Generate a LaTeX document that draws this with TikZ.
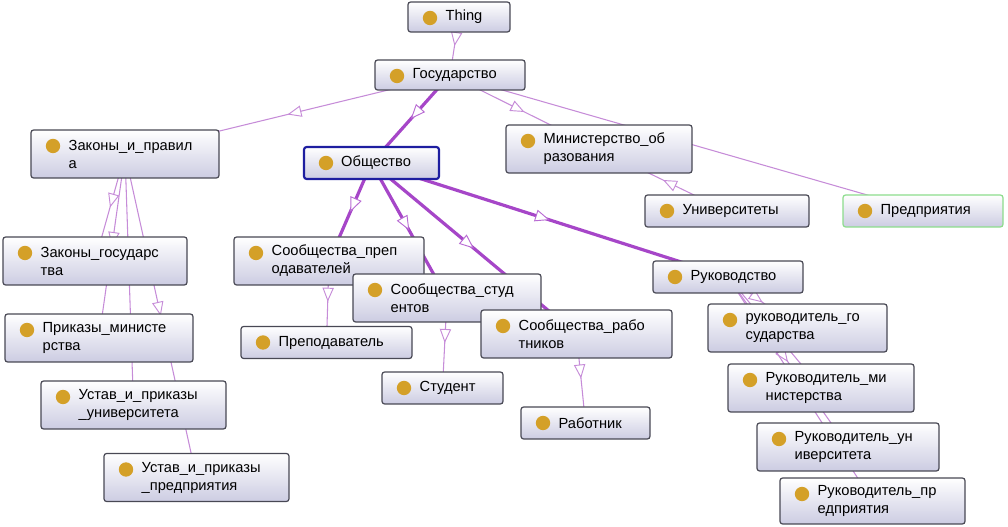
\documentclass[tikz,border=0pt]{standalone}
\usepackage{fontspec}
\setmainfont{Liberation Sans}
\usepackage{tikz}
\usetikzlibrary{arrows.meta,decorations.markings,backgrounds}
\definecolor{boxline}{RGB}{72,72,84}
\definecolor{boxfill}{RGB}{204,204,226}
\definecolor{dotcol}{RGB}{212,160,40}
\definecolor{thinedge}{RGB}{198,140,216}
\definecolor{thickedge}{RGB}{166,70,200}
\definecolor{obshline}{RGB}{30,30,160}
\definecolor{predline}{RGB}{140,220,140}

\begin{document}
\begin{tikzpicture}[x=0.75pt, y=-0.75pt,
  cls/.style={draw=boxline, line width=0.9pt, rounded corners=2pt, top color=white, bottom color=boxfill,
    minimum height=24pt, inner sep=0pt,
    path picture={\fill[dotcol] ([xshift=16.5pt,yshift=-12pt]path picture bounding box.north west) circle (5.4pt);}},
  tall/.style={minimum height=36pt},
  lbl/.style={font=\fontsize{11}{13.5}\selectfont, align=left, inner sep=0pt, anchor=west},
  isa/.style={draw=thinedge, line width=0.8pt, postaction={decorate},
    decoration={markings, mark=at position 0.5 with {\arrow{Triangle[fill=white, length=10.5pt, width=8.5pt, line width=0.7pt]}}}},
  isab/.style={draw=thickedge, line width=2.4pt, postaction={decorate},
    decoration={markings, mark=at position 0.5 with {\arrow{Triangle[fill=white, color=thickedge!80, length=11pt, width=9pt, line width=0.7pt]}}}}]
\useasboundingbox (0,0) rectangle (1008,527);

\node[cls, minimum width=76.5pt, minimum height=22.5pt] (thing) at (459,17) {};
\node[lbl] (thing-t) at ([xshift=28.5pt]thing.west) {Thing};
\node[cls, minimum width=112.5pt, minimum height=22.5pt] (gos) at (450,75) {};
\node[lbl] (gos-t) at ([xshift=28.5pt]gos.west) {Государство};
\node[cls, tall, minimum width=141pt] (zakon) at (125,154) {};
\node[lbl] (zakon-t) at ([xshift=28.5pt]zakon.west) {Законы\_и\_правил\\а};
\node[cls, draw=obshline, line width=1.6pt, minimum width=101.25pt] (obsh) at (371.5,163) {};
\node[lbl] (obsh-t) at ([xshift=28.5pt]obsh.west) {Общество};
\node[cls, tall, minimum width=139.5pt] (minobr) at (599,149) {};
\node[lbl] (minobr-t) at ([xshift=28.5pt]minobr.west) {Министерство\_об\\разования};
\node[cls, minimum width=123pt] (univ) at (727,211) {};
\node[lbl] (univ-t) at ([xshift=28.5pt]univ.west) {Университеты};
\node[cls, draw=predline, minimum width=120pt] (pred) at (923,211) {};
\node[lbl] (pred-t) at ([xshift=28.5pt]pred.west) {Предприятия};
\node[cls, tall, minimum width=138pt] (zakgos) at (95,261) {};
\node[lbl] (zakgos-t) at ([xshift=28.5pt]zakgos.west) {Законы\_государс\\тва};
\node[cls, tall, minimum width=142.5pt] (soobprep) at (329,261) {};
\node[lbl] (soobprep-t) at ([xshift=28.5pt]soobprep.west) {Сообщества\_преп\\одавателей};
\node[cls, minimum width=112.5pt] (ruk) at (728,277) {};
\node[lbl] (ruk-t) at ([xshift=28.5pt]ruk.west) {Руководство};
\node[cls, tall, minimum width=141pt] (soobstud) at (447,298) {};
\node[lbl] (soobstud-t) at ([xshift=28.5pt]soobstud.west) {Сообщества\_студ\\ентов};
\node[cls, tall, minimum width=143.25pt] (soobrab) at (576.5,334) {};
\node[lbl] (soobrab-t) at ([xshift=28.5pt]soobrab.west) {Сообщества\_рабо\\тников};
\node[cls, tall, minimum width=134.25pt] (rukgos) at (797.5,328) {};
\node[lbl] (rukgos-t) at ([xshift=28.5pt]rukgos.west) {руководитель\_го\\сударства};
\node[cls, tall, minimum width=141pt] (prikaz) at (99,338) {};
\node[lbl] (prikaz-t) at ([xshift=28.5pt]prikaz.west) {Приказы\_министе\\рства};
\node[cls, minimum width=128.25pt] (prepod) at (326.5,342.5) {};
\node[lbl] (prepod-t) at ([xshift=28.5pt]prepod.west) {Преподаватель};
\node[cls, minimum width=90.75pt] (student) at (442.5,388) {};
\node[lbl] (student-t) at ([xshift=28.5pt]student.west) {Студент};
\node[cls, tall, minimum width=139.5pt] (rukmin) at (821,388) {};
\node[lbl] (rukmin-t) at ([xshift=28.5pt]rukmin.west) {Руководитель\_ми\\нистерства};
\node[cls, tall, minimum width=138.75pt] (ustuniv) at (133.5,405) {};
\node[lbl] (ustuniv-t) at ([xshift=28.5pt]ustuniv.west) {Устав\_и\_приказы\\\_университета};
\node[cls, minimum width=96.75pt] (rabotnik) at (585.5,423) {};
\node[lbl] (rabotnik-t) at ([xshift=28.5pt]rabotnik.west) {Работник};
\node[cls, tall, minimum width=136.5pt] (rukuniv) at (848,447) {};
\node[lbl] (rukuniv-t) at ([xshift=28.5pt]rukuniv.west) {Руководитель\_ун\\иверситета};
\node[cls, tall, minimum width=138.75pt] (ustpred) at (196.5,477.5) {};
\node[lbl] (ustpred-t) at ([xshift=28.5pt]ustpred.west) {Устав\_и\_приказы\\\_предприятия};
\node[cls, tall, minimum width=138.75pt, minimum height=34.5pt] (rukpred) at (872.5,501) {};
\node[lbl] (rukpred-t) at ([xshift=28.5pt]rukpred.west) {Руководитель\_пр\\едприятия};

\begin{scope}[on background layer]
% subclass links, centre to centre
\draw[isa] (thing.center) -- (gos.center);
\draw[isa] (gos.center) -- (zakon.center);
\draw[isab] (gos.center) -- (obsh.center);
\draw[isa] (gos.center) -- (minobr.center);
\draw[isa] (gos.center) -- (pred.center);
\draw[isa] (univ.center) -- (minobr.center);
\draw[isa] (zakon.center) -- (zakgos.center);
\draw[isa] (zakon.center) -- (prikaz.center);
\draw[isa] (zakon.center) -- (ustuniv.center);
\draw[isa] (zakon.center) -- (ustpred.center);
\draw[isab] (obsh.center) -- (soobprep.center);
\draw[isab] (obsh.center) -- (soobstud.center);
\draw[isab] (obsh.center) -- (soobrab.center);
\draw[isab] (obsh.center) -- (ruk.center);
\draw[isa] (soobprep.center) -- (prepod.center);
\draw[isa] (soobstud.center) -- (student.center);
\draw[isa] (soobrab.center) -- (rabotnik.center);
\draw[isa] (ruk.center) -- (rukgos.center);
\draw[isa] (ruk.center) -- (rukmin.center);
\draw[isa] (ruk.center) -- (rukuniv.center);
\draw[isa] (ruk.center) -- (rukpred.center);
\end{scope}
\end{tikzpicture}
\end{document}
